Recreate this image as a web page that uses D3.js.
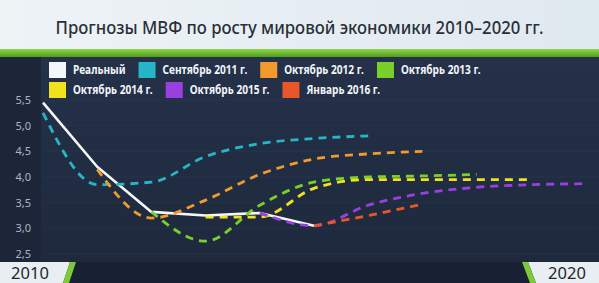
<!DOCTYPE html>
<html>
<head>
<meta charset="utf-8">
<script src="https://cdn.jsdelivr.net/npm/d3@7"></script>
<style>
  body{margin:0;padding:0;background:#1f2b3f;}
  svg{display:block;}
</style>
</head>
<body>
<div id="chart"></div>
<script>
// данные прогнозов (рост мировой экономики, %)
var titleText = "Прогнозы МВФ по росту мировой экономики 2010–2020 гг.";
var yTicks = [2.5, 3.0, 3.5, 4.0, 4.5, 5.0, 5.5];
var edgeYears = ["2010", "2020"];

var seriesNames = ["Реальный", "Сентябрь 2011 г.", "Октябрь 2012 г.", "Октябрь 2013 г.",
                   "Октябрь 2014 г.", "Октябрь 2015 г.", "Январь 2016 г."];
var seriesColors = ["#f4f7fa", "#26b6c8", "#f29a2c", "#79d02a", "#f1e21e", "#9a3fe0", "#e9562a"];

var realYears = [2010, 2011, 2012, 2013, 2014, 2015];
var realVals  = [5.45, 4.2, 3.32, 3.25, 3.3, 3.05];

var sep2011Years = [2010, 2011, 2012, 2013, 2014, 2015, 2016];
var sep2011Vals  = [5.25, 3.85, 3.9, 4.4, 4.65, 4.75, 4.8];

var oct2012Years = [2011, 2012, 2013, 2014, 2015, 2016, 2017];
var oct2012Vals  = [4.15, 3.2, 3.55, 4.05, 4.35, 4.45, 4.5];

var oct2013Years = [2012, 2013, 2014, 2015, 2016, 2017, 2018];
var oct2013Vals  = [3.32, 2.75, 3.45, 3.9, 4.0, 4.02, 4.05];

var oct2014Years = [2013, 2014, 2015, 2016, 2017, 2018, 2019];
var oct2014Vals  = [3.22, 3.22, 3.78, 3.95, 3.95, 3.95, 3.95];

var oct2015Years = [2014, 2015, 2016, 2017, 2018, 2019, 2020];
var oct2015Vals  = [3.3, 3.05, 3.45, 3.68, 3.8, 3.85, 3.87];

var jan2016Years = [2015, 2016, 2017];
var jan2016Vals  = [3.05, 3.25, 3.47];

var W = 599, H = 283;
var headerH = 49, bandH = 8, footTop = 262;
var left = 43, right = 585;

var svg = d3.select("#chart").append("svg")
    .attr("width", W)
    .attr("height", H);

var defs = svg.append("defs");
var hg = defs.append("linearGradient").attr("id", "hdr").attr("x1", 0).attr("x2", 1).attr("y1", 0).attr("y2", 0);
hg.append("stop").attr("offset", "0%").attr("stop-color", "#eef3f6");
hg.append("stop").attr("offset", "100%").attr("stop-color", "#dfe9f0");
var gg = defs.append("linearGradient").attr("id", "band").attr("x1", 0).attr("x2", 0).attr("y1", 0).attr("y2", 1);
gg.append("stop").attr("offset", "0%").attr("stop-color", "#8fd64a");
gg.append("stop").attr("offset", "100%").attr("stop-color", "#4f9e1c");
var pg = defs.append("linearGradient").attr("id", "plotbg").attr("x1", 0).attr("x2", 0).attr("y1", 0).attr("y2", 1);
pg.append("stop").attr("offset", "0%").attr("stop-color", "#243149");
pg.append("stop").attr("offset", "100%").attr("stop-color", "#1e293c");

// фон
svg.append("rect").attr("x", 0).attr("y", 0).attr("width", W).attr("height", headerH).attr("fill", "url(#hdr)");
svg.append("rect").attr("x", 0).attr("y", headerH).attr("width", W).attr("height", bandH).attr("fill", "url(#band)");
svg.append("rect").attr("x", 0).attr("y", headerH + bandH).attr("width", W).attr("height", footTop - headerH - bandH).attr("fill", "url(#plotbg)");
svg.append("rect").attr("x", 0).attr("y", headerH + bandH).attr("width", 41).attr("height", footTop - headerH - bandH).attr("fill", "#1c2638");
svg.append("rect").attr("x", 0).attr("y", footTop).attr("width", W).attr("height", H - footTop).attr("fill", "#182132");

svg.append("text")
    .attr("x", W / 2)
    .attr("y", 34)
    .attr("text-anchor", "middle")
    .attr("font-family", "Noto Sans, sans-serif")
    .attr("font-weight", 500)
    .attr("font-size", 18)
    .attr("fill", "#2a2f37")
    .attr("textLength", 488)
    .attr("lengthAdjust", "spacingAndGlyphs")
    .text(titleText);

var x = d3.scaleLinear().domain([2010, 2020]).range([left, right]);
var y = d3.scaleLinear().domain([2.5, 5.5]).range([254, 100]);

// сетка
svg.append("g").selectAll("line")
    .data(yTicks)
    .enter().append("line")
    .attr("x1", left).attr("x2", W)
    .attr("y1", function(d){ return y(d); })
    .attr("y2", function(d){ return y(d); })
    .attr("stroke", "#3a4760")
    .attr("stroke-opacity", 0.25)
    .attr("stroke-width", 1);

var yAxis = svg.append("g")
    .attr("transform", "translate(31,0)")
    .call(d3.axisLeft(y).tickValues(yTicks).tickSize(0).tickPadding(0)
        .tickFormat(function(d){ return d3.format(".1f")(d).replace(".", ","); }));
yAxis.select(".domain").remove();
yAxis.selectAll("text")
    .attr("font-family", "Noto Sans, sans-serif")
    .attr("font-size", 11)
    .attr("fill", "#aab5c6");

// линии
var allSeries = [
    {years: realYears, vals: realVals, dash: null},
    {years: sep2011Years, vals: sep2011Vals, dash: "8,6"},
    {years: oct2012Years, vals: oct2012Vals, dash: "8,6"},
    {years: oct2013Years, vals: oct2013Vals, dash: "8,6"},
    {years: oct2014Years, vals: oct2014Vals, dash: "8,6"},
    {years: oct2015Years, vals: oct2015Vals, dash: "8,6"},
    {years: jan2016Years, vals: jan2016Vals, dash: "8,6"}
];

var lineGen = d3.line()
    .curve(d3.curveMonotoneX)
    .x(function(d){ return x(d[0]); })
    .y(function(d){ return y(d[1]); });
var realLine = d3.line()
    .x(function(d){ return x(d[0]); })
    .y(function(d){ return y(d[1]); });

var linesG = svg.append("g");
allSeries.forEach(function(s, i){
    var pts = s.years.map(function(yr, k){ return [yr, s.vals[k]]; });
    linesG.append("path")
        .datum(pts)
        .attr("d", i == 0 ? realLine : lineGen)
        .attr("fill", "none")
        .attr("stroke", seriesColors[i])
        .attr("stroke-width", i == 0 ? 2.6 : 2.8)
        .attr("stroke-dasharray", s.dash)
        .attr("stroke-linejoin", "round");
});

// легенда
var legendRows = [[0, 1, 2, 3], [4, 5, 6]];
var legendG = svg.append("g");
legendRows.forEach(function(row, r){
    var lx = 49;
    var ly = 62 + r * 20;
    row.forEach(function(i){
        legendG.append("rect")
            .attr("x", lx).attr("y", ly)
            .attr("width", 17).attr("height", 16)
            .attr("fill", seriesColors[i]);
        var t = legendG.append("text")
            .attr("x", lx + 24)
            .attr("y", ly + 12)
            .attr("font-family", "Noto Sans, sans-serif")
            .attr("font-weight", "bold")
            .attr("font-size", 11.5)
            .attr("fill", "#f2f5f8")
            .text(seriesNames[i]);
        var tw = t.node().getComputedTextLength() * 0.88;
        t.attr("textLength", tw).attr("lengthAdjust", "spacingAndGlyphs");
        lx = lx + 24 + tw + 13;
    });
});

// нижние плашки
svg.append("polygon").attr("points", "0,262 70,262 63,283 0,283").attr("fill", "#e8eef2");
svg.append("polygon").attr("points", "70,262 76,262 69,283 63,283").attr("fill", "#7cc93a");
svg.append("polygon").attr("points", "528,262 599,262 599,283 536,283").attr("fill", "#e8eef2");
svg.append("polygon").attr("points", "522,262 528,262 536,283 530,283").attr("fill", "#7cc93a");

svg.append("g").selectAll("text")
    .data(edgeYears)
    .enter().append("text")
    .attr("x", function(d, i){ return i == 0 ? 30 : 567; })
    .attr("y", 279)
    .attr("text-anchor", "middle")
    .attr("font-family", "Noto Sans, sans-serif")
    .attr("font-size", 16.5)
    .attr("fill", "#23272e")
    .text(function(d){ return d; });
</script>
</body>
</html>
